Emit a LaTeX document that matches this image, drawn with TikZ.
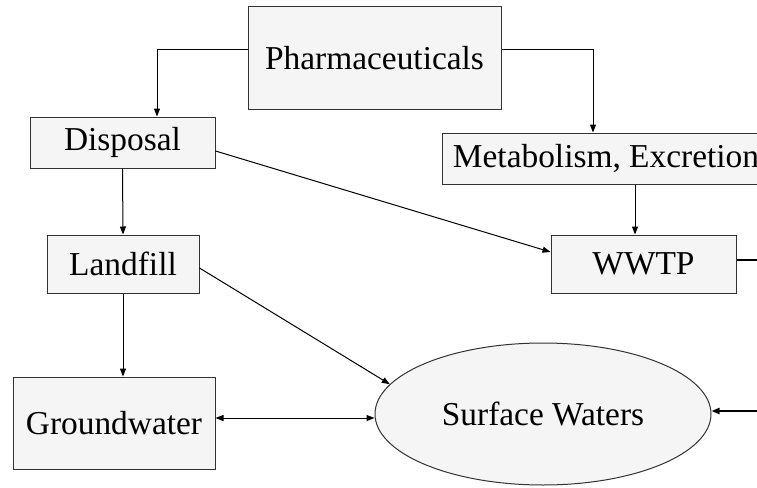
\documentclass[tikz,border=0pt]{standalone}
\usepackage{fontspec}
\setmainfont{Liberation Serif}
\usetikzlibrary{shapes,arrows.meta}
\usetikzlibrary{shapes.geometric}

\tikzset{
  box/.style={draw=black!80, fill=black!4, line width=1pt, inner sep=0pt},
  flow/.style={line width=1pt, -{Triangle[length=8pt,width=6pt]}},
  twoway/.style={line width=1pt, {Triangle[length=8pt,width=6pt]}-{Triangle[length=8pt,width=6pt]}},
}

\begin{document}
\begin{tikzpicture}[x=1pt, y=-1pt, font=\fontsize{33.4}{38}\selectfont]
  \clip (0,0) rectangle (757,487);

  % Boxes
  \draw (374.5,58)  node[box, minimum width=253pt, minimum height=102pt] (pharma) {Pharmaceuticals};
  \draw (122.5,142.5) node[box, minimum width=185pt, minimum height=51pt] (disposal) {Disposal};
  \draw (606,158.5) node[box, minimum width=328pt, minimum height=51pt] (metab) {Metabolism, Excretion};
  \draw (123,264)   node[box, minimum width=152pt, minimum height=58pt] (landfill) {Landfill};
  \draw (643.5,264) node[box, minimum width=185pt, minimum height=58pt] (wwtp) {WWTP};
  \draw (114,423)   node[box, minimum width=202pt, minimum height=92pt] (ground) {Groundwater};
  \draw (543,414)   node[box, ellipse, minimum width=336pt, minimum height=142pt] (surface) {Surface Waters};

  % Loose ends at the right margin
  \coordinate (wwtpout) at (757,260);
  \coordinate (surfin) at (757,411);

  % Flows
  \draw[flow] ([yshift=8pt]pharma.west) -| ([xshift=34.5pt]disposal.north);
  \draw[flow] ([yshift=8pt]pharma.east) -| ([xshift=-13pt]metab.north);
  \draw[flow] (disposal.south) -- (landfill.north);
  \draw[flow] ([yshift=-8.5pt]disposal.east) -- ([yshift=12pt]wwtp.west);
  \draw[flow] ([xshift=-8.5pt]wwtp.north |- metab.south) -- ([xshift=-8.5pt]wwtp.north);
  \draw[flow] (landfill.south) -- (landfill.south |- ground.north);
  \draw[flow] ([yshift=-4pt]landfill.east) -- (surface.169);
  \draw[twoway] ([yshift=5pt]ground.east) -- ([yshift=-4pt]surface.west);
  \draw[line width=2pt] ([yshift=4pt]wwtp.east) -- (wwtpout);
  \draw[flow, line width=2pt] (surfin) -- ([yshift=3pt]surface.east);
\end{tikzpicture}
\end{document}
